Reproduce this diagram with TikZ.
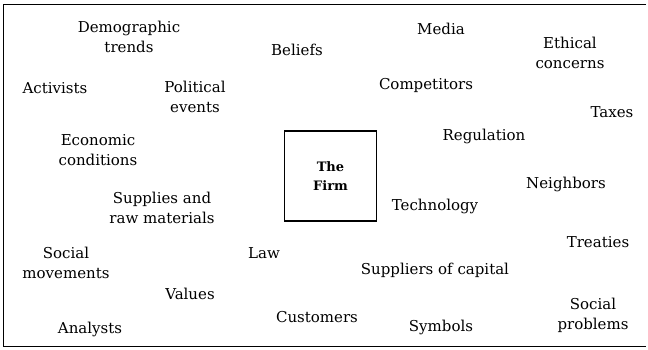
\documentclass[tikz,border=0pt]{standalone}
\usepackage{fontspec}
\setmainfont{DejaVu Serif}
\usepackage{tikz}
\begin{document}
\begin{tikzpicture}[x=1pt,y=-1pt,
    factor/.style={font=\fontsize{15}{20}\selectfont, align=center, inner sep=0pt},
    firm/.style={draw, line width=1.1pt, minimum width=92pt, minimum height=90pt,
        align=center, font=\fontsize{13}{19}\selectfont\bfseries}]
    \useasboundingbox (0,0) rectangle (648,349);
    \coordinate (TR) at (646,4);
    \coordinate (TL) at (3,4);
    \coordinate (BL) at (3,346);
    \coordinate (BR) at (646,346);
    \draw[line width=0.9pt] (TR) -- (TL) -- (BL) -- (BR);

    \node[firm] (firm) at (330.5,176) {The\\Firm};

    % top row
    \node[factor] (demo) at (129,37) {Demographic\\trends};
    \node[factor] (beliefs) at (297,50) {Beliefs};
    \node[factor] (media) at (441,29) {Media};
    \node[factor] (ethical) at (570,53) {Ethical\\concerns};
    \node[factor] (activists) at (55,88) {Activists};
    \node[factor] (political) at (195,97) {Political\\events};
    \node[factor] (competitors) at (426,85) {Competitors};
    \node[factor] (taxes) at (612,112) {Taxes};

    % middle
    \node[factor] (economic) at (98,150) {Economic\\conditions};
    \node[factor] (regulation) at (484,136) {Regulation};
    \node[factor] (neighbors) at (566,184) {Neighbors};
    \node[factor] (technology) at (435,206) {Technology};
    \node[factor] (supplies) at (162,208) {Supplies and\\raw materials};

    % bottom
    \node[factor] (socmov) at (66,263) {Social\\movements};
    \node[factor] (law) at (264,253) {Law};
    \node[factor] (treaties) at (598,242) {Treaties};
    \node[factor] (capital) at (435,270) {Suppliers of capital};
    \node[factor] (values) at (190,294) {Values};
    \node[factor] (customers) at (317,317) {Customers};
    \node[factor] (socprob) at (593,315) {Social\\problems};
    \node[factor] (analysts) at (90,329) {Analysts};
    \node[factor] (symbols) at (441,327) {Symbols};
\end{tikzpicture}
\end{document}
